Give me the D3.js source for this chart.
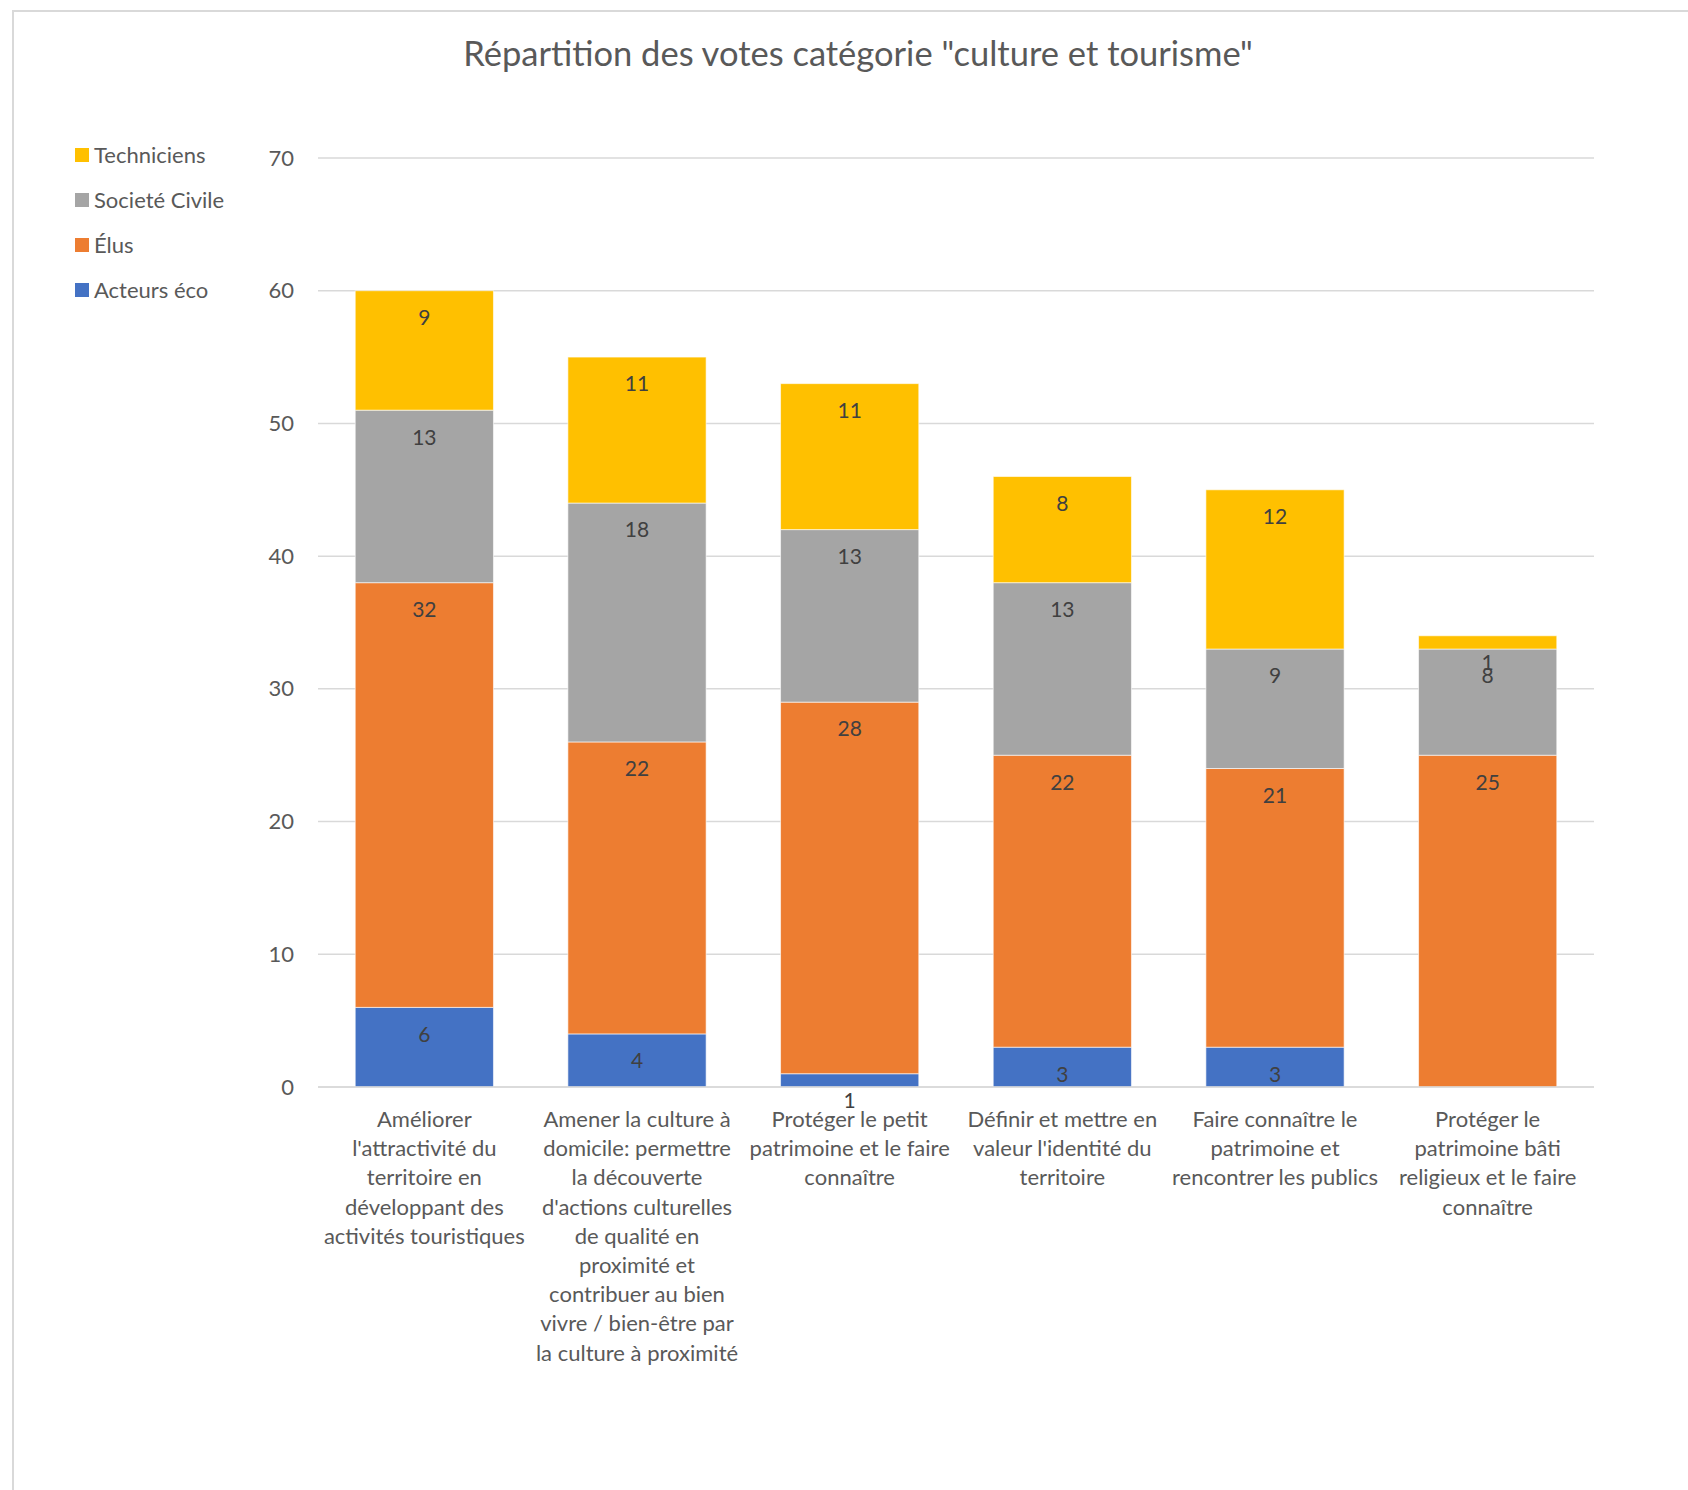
<!DOCTYPE html>
<html>
<head>
<meta charset="utf-8">
<script src="https://cdn.jsdelivr.net/npm/d3@7"></script>
<style>
  body { margin: 0; background: #fff; }
  svg text { font-family: Lato, "Open Sans", sans-serif; }
</style>
</head>
<body>
<svg id="chart" width="1688" height="1490"></svg>
<script>
// data
var categories = [
  "Améliorer l'attractivité du territoire en développant des activités touristiques",
  "Amener la culture à domicile: permettre la découverte d'actions culturelles de qualité en proximité et contribuer au bien vivre / bien-être par la culture à proximité",
  "Protéger le petit patrimoine et le faire connaître",
  "Définir et mettre en valeur l'identité du territoire",
  "Faire connaître le patrimoine et rencontrer les publics",
  "Protéger le patrimoine bâti religieux et le faire connaître"
];
var tickLines = [
  ["Améliorer", "l'attractivité du", "territoire en", "développant des", "activités touristiques"],
  ["Amener la culture à", "domicile: permettre", "la découverte", "d'actions culturelles", "de qualité en", "proximité et", "contribuer au bien", "vivre / bien-être par", "la culture à proximité"],
  ["Protéger le petit", "patrimoine et le faire", "connaître"],
  ["Définir et mettre en", "valeur l'identité du", "territoire"],
  ["Faire connaître le", "patrimoine et", "rencontrer les publics"],
  ["Protéger le", "patrimoine bâti", "religieux et le faire", "connaître"]
];
var seriesNames = ["Acteurs éco", "Élus", "Societé Civile", "Techniciens"];
var acteurs = [6, 4, 1, 3, 3, 0];
var elus = [32, 22, 28, 22, 21, 25];
var societe = [13, 18, 13, 13, 9, 8];
var techniciens = [9, 11, 11, 8, 12, 1];
var yTicks = [0, 10, 20, 30, 40, 50, 60, 70];
var colors = ["#4472C4", "#ED7D31", "#A5A5A5", "#FFC000"];

var rows = categories.map(function(c, i) {
  return { cat: c, "Acteurs éco": acteurs[i], "Élus": elus[i], "Societé Civile": societe[i], "Techniciens": techniciens[i] };
});

var svg = d3.select("#chart");
var plotLeft = 318, plotRight = 1594, plotTop = 158, plotBottom = 1087;

// frame
svg.append("path")
  .attr("d", "M13,1490 L13,11 L1688,11")
  .attr("fill", "none")
  .attr("stroke", "#d9d9d9")
  .attr("stroke-width", 2);

svg.append("text")
  .attr("x", 858)
  .attr("y", 66)
  .attr("text-anchor", "middle")
  .attr("font-size", 34.5)
  .attr("fill", "#595959")
  .text("Répartition des votes catégorie \"culture et tourisme\"");

var x = d3.scaleBand().domain(categories).range([plotLeft, plotRight]).paddingInner(0.35).paddingOuter(0.175);
var y = d3.scaleLinear().domain([0, 70]).range([plotBottom, plotTop]);
var color = d3.scaleOrdinal().domain(seriesNames).range(colors);

// gridlines
svg.append("g")
  .selectAll("line")
  .data(yTicks)
  .enter().append("line")
  .attr("x1", plotLeft).attr("x2", plotRight)
  .attr("y1", function(d) { return y(d); })
  .attr("y2", function(d) { return y(d); })
  .attr("stroke", "#d9d9d9")
  .attr("stroke-width", 1.5);

// y axis labels
var yAxis = svg.append("g")
  .attr("transform", "translate(" + plotLeft + ",0)")
  .call(d3.axisLeft(y).tickValues(yTicks).tickSize(0).tickPadding(24));
yAxis.select(".domain").remove();
yAxis.selectAll("text")
  .attr("font-size", 22)
  .attr("fill", "#595959")
  .style("font-family", "Lato, 'Open Sans', sans-serif");

var stack = d3.stack().keys(seriesNames)(rows);

var layer = svg.append("g")
  .selectAll("g")
  .data(stack)
  .enter().append("g")
  .attr("fill", function(d) { return color(d.key); });

layer.selectAll("rect")
  .data(function(d) { return d; })
  .enter().append("rect")
  .attr("x", function(d) { return x(d.data.cat); })
  .attr("width", x.bandwidth())
  .attr("y", function(d) { return y(d[1]); })
  .attr("height", function(d) { return y(d[0]) - y(d[1]); })
  .attr("stroke", "#ffffff")
  .attr("stroke-opacity", 0.6)
  .attr("stroke-width", 1);

// data labels, inside end
layer.selectAll("text")
  .data(function(d) { return d.filter(function(p) { return p[1] - p[0] > 0; }); })
  .enter().append("text")
  .attr("x", function(d) { return x(d.data.cat) + x.bandwidth() / 2; })
  .attr("y", function(d) { return y(d[1]) + 27; })
  .attr("dy", "0.35em")
  .attr("text-anchor", "middle")
  .attr("font-size", 21)
  .attr("fill", "#404040")
  .text(function(d) { return d[1] - d[0]; });

// x axis base line
svg.append("line")
  .attr("x1", plotLeft).attr("x2", plotRight)
  .attr("y1", plotBottom).attr("y2", plotBottom)
  .attr("stroke", "#d9d9d9")
  .attr("stroke-width", 1.5);

// x tick labels
var xLab = svg.append("g")
  .selectAll("text")
  .data(categories)
  .enter().append("text")
  .attr("text-anchor", "middle")
  .attr("font-size", 22)
  .attr("fill", "#595959")
  .attr("x", function(d) { return x(d) + x.bandwidth() / 2; })
  .attr("y", 1127);

xLab.selectAll("tspan")
  .data(function(d, i) { return tickLines[i]; })
  .enter().append("tspan")
  .attr("x", function() { return d3.select(this.parentNode).attr("x"); })
  .attr("dy", function(d, i) { return i === 0 ? 0 : 29.2; })
  .text(function(d) { return d; });

// legend
var legend = svg.append("g")
  .selectAll("g")
  .data(seriesNames.slice().reverse())
  .enter().append("g")
  .attr("transform", function(d, i) { return "translate(75," + (155 + i * 45) + ")"; });

legend.append("rect")
  .attr("x", 0).attr("y", -7)
  .attr("width", 14).attr("height", 14)
  .attr("fill", function(d) { return color(d); });

legend.append("text")
  .attr("x", 19)
  .attr("dy", "0.35em")
  .attr("font-size", 22)
  .attr("fill", "#595959")
  .text(function(d) { return d; });
</script>
</body>
</html>
